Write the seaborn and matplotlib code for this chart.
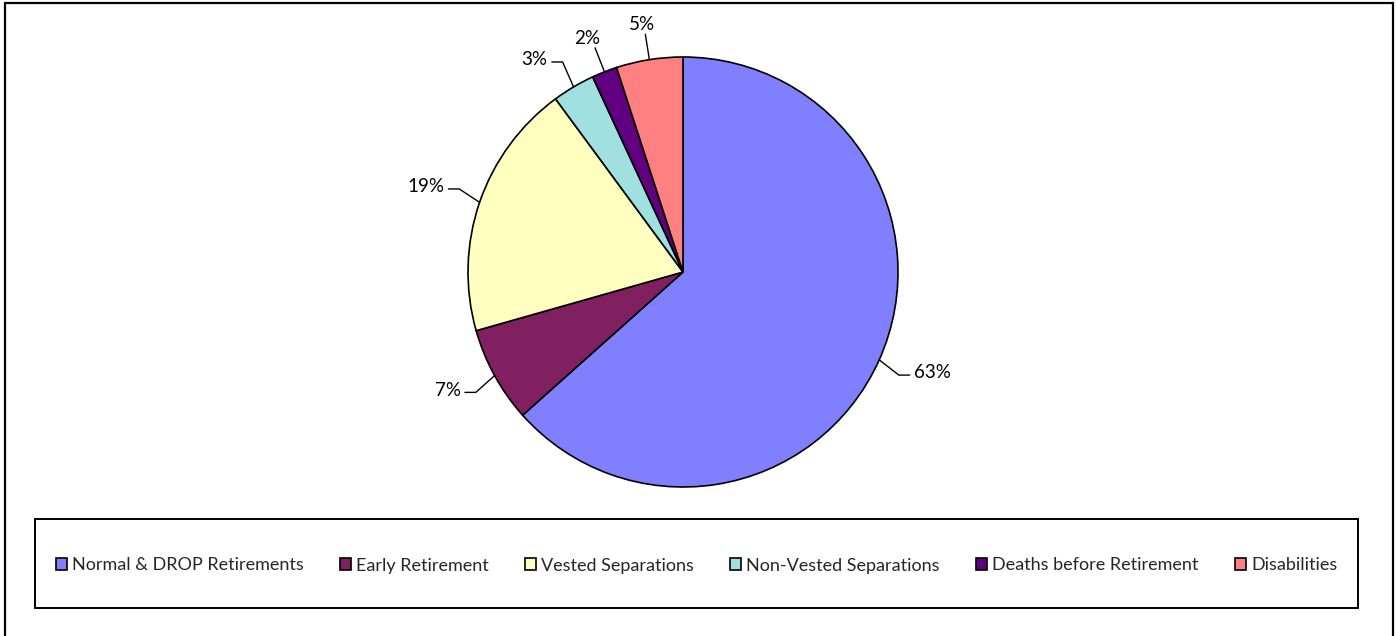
import numpy as np
import matplotlib
matplotlib.use("Agg")
import matplotlib.pyplot as plt
from matplotlib.patches import Rectangle, Patch
import seaborn as sns

categories = ["Normal & DROP Retirements", "Early Retirement", "Vested Separations",
              "Non-Vested Separations", "Deaths before Retirement", "Disabilities"]
values = [63.4, 7.2, 19.3, 3.2, 1.9, 5.0]
colors = ["#8080FF", "#802060", "#FFFFC0", "#A0E0E0", "#600080", "#FF8080"]

sns.set_theme(style="white")
plt.rcParams['font.family'] = ['Lato', 'DejaVu Sans']
pal = sns.color_palette(colors)

W, H = 1396, 636
fig = plt.figure(figsize=(W / 100, H / 100), dpi=100)
fig.patch.set_facecolor("white")

# outer border
fig.patches.append(Rectangle((5 / W, -0.02), (1393 - 5) / W, 1 - 3 / H + 0.02,
                             transform=fig.transFigure, fill=False,
                             edgecolor="black", linewidth=1.6))

cx, cy, R = 683, 272, 215
ax = fig.add_axes([(cx - R) / W, 1 - (cy + R) / H, 2 * R / W, 2 * R / H])
wedges, _ = ax.pie(values, colors=pal, startangle=90, counterclock=False,
                   wedgeprops=dict(edgecolor="black", linewidth=1.2))
ax.set_xlim(-1, 1)
ax.set_ylim(-1, 1)
ax.set_aspect("equal")
ax.axis("off")

total = sum(values)
lfs = 13.5
for w, v in zip(wedges, values):
    th = np.deg2rad((w.theta1 + w.theta2) / 2)
    c, s = np.cos(th), np.sin(th)
    x0, y0 = c, s
    lab = f"{round(v / total * 100):.0f}%"
    if abs(c) < 0.45:
        x1, y1 = 1.12 * c, 1.12 * s
        ax.plot([x0, x1], [y0, y1], color="black", lw=1, clip_on=False)
        ax.text(x1 + 0.1 * c, y1 + 0.005, lab, ha="center", va="bottom",
                fontsize=lfs, color="black")
    else:
        x1, y1 = 1.1 * c, 1.1 * s + 0.03 * np.sign(s)
        d = np.sign(c)
        x2 = x1 + 0.05 * d
        ax.plot([x0, x1, x2], [y0, y1, y1], color="black", lw=1, clip_on=False)
        ax.text(x2 + 0.02 * d, y1 + 0.01, lab, ha="left" if d > 0 else "right",
                va="center", fontsize=lfs, color="black")

# legend box
lx0, ly0, lx1, ly1 = 35, 519, 1358, 608
fig.patches.append(Rectangle((lx0 / W, 1 - ly1 / H), (lx1 - lx0) / W, (ly1 - ly0) / H,
                             transform=fig.transFigure, fill=False,
                             edgecolor="black", linewidth=1.4))
handles = [Patch(facecolor=col, edgecolor="black", linewidth=1.2) for col in pal]
fig.legend(handles, categories, loc="center",
           bbox_to_anchor=(((lx0 + lx1) / 2) / W, 1 - ((ly0 + ly1) / 2 + 2) / H),
           ncol=6, frameon=False, fontsize=13, handlelength=0.6, handleheight=0.6,
           handletextpad=0.3, columnspacing=2.0, borderaxespad=0)

fig.savefig("out.png", dpi=100, facecolor="white")
